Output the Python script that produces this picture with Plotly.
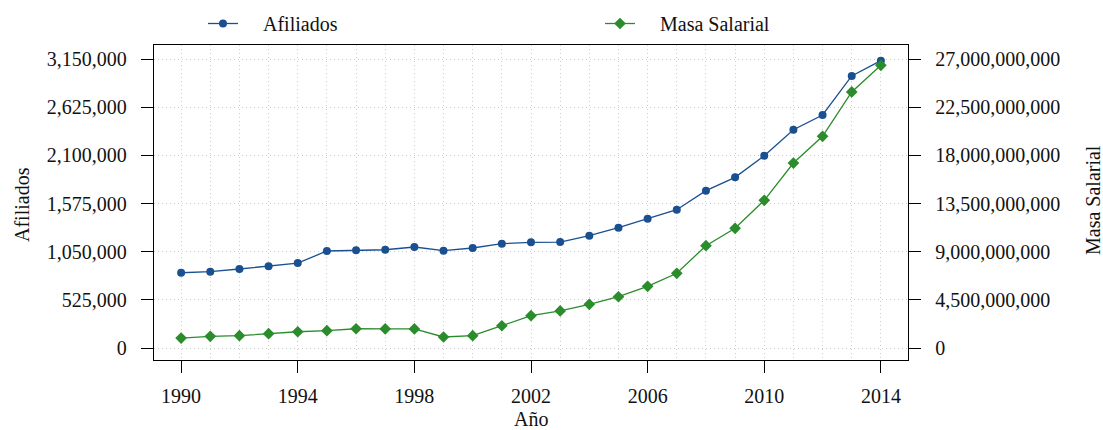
import plotly.graph_objects as go

years = list(range(1990, 2015))
afiliados = [820000, 832000, 861000, 890000, 926000, 1057000, 1065000, 1071000,
             1101000, 1061000, 1090000, 1137000, 1152000, 1155000, 1224000,
             1311000, 1409000, 1507000, 1715000, 1860000, 2096000, 2379000,
             2540000, 2965000, 3132000]
masa_salarial = [0.93e9, 1.09e9, 1.15e9, 1.34e9, 1.52e9, 1.62e9, 1.80e9, 1.78e9,
                 1.78e9, 1.03e9, 1.15e9, 2.08e9, 3.02e9, 3.46e9, 4.08e9, 4.79e9,
                 5.76e9, 6.98e9, 9.56e9, 11.18e9, 13.80e9, 17.28e9, 19.78e9,
                 23.92e9, 26.41e9]
x_ticks = [1990, 1994, 1998, 2002, 2006, 2010, 2014]
y1_ticks = [0, 525000, 1050000, 1575000, 2100000, 2625000, 3150000]
y2_ticks = [0, 4.5e9, 9e9, 13.5e9, 18e9, 22.5e9, 27e9]

BLUE = "#1a5090"
GREEN = "#2a8c2a"
FONT = "Liberation Serif"
FS = 20
GRID = "#cccccc"
DASH = "1px,3px"
PAD = "\u00a0" * 4

W, H = 1103, 430
L, R, T, B = 154, 908, 45, 360


def px_x(px):
    return (px - L) / (R - L)


def px_y(py):
    return (B - py) / (B - T)


fig = go.Figure()
fig.add_trace(go.Scatter(
    x=years, y=afiliados, name=PAD + "Afiliados", mode="lines+markers",
    line=dict(color=BLUE, width=1.3), marker=dict(symbol="circle", size=8, color=BLUE),
    legend="legend", showlegend=True, yaxis="y"))
fig.add_trace(go.Scatter(
    x=years, y=masa_salarial, name=PAD + "Masa Salarial", mode="lines+markers",
    line=dict(color=GREEN, width=1.3), marker=dict(symbol="diamond", size=9, color=GREEN),
    legend="legend2", showlegend=True, yaxis="y2"))

fig.update_layout(
    width=W, height=H,
    showlegend=True,
    margin=dict(l=L, r=W - R, t=T, b=H - B, autoexpand=False),
    paper_bgcolor="white", plot_bgcolor="white",
    font=dict(family=FONT, size=FS, color="#111111"),
    legend=dict(x=px_x(203), y=px_y(4), xanchor="left", yanchor="top",
                orientation="h", font=dict(family=FONT, size=FS), bgcolor="rgba(0,0,0,0)",
                visible=True),
    legend2=dict(x=px_x(600), y=px_y(4), xanchor="left", yanchor="top",
                 orientation="h", font=dict(family=FONT, size=FS), bgcolor="rgba(0,0,0,0)",
                 visible=True),
    xaxis=dict(
        range=[1989.07, 2014.93], tickvals=x_ticks, ticks="outside", ticklen=12,
        tickcolor="black", showline=True, linecolor="black", linewidth=1.3, mirror=True,
        showgrid=True, gridcolor=GRID, griddash=DASH, gridwidth=1,
        minor=dict(dtick=1, tick0=1990, showgrid=True, gridcolor=GRID,
                   griddash=DASH, gridwidth=1, ticks=""),
        zeroline=False, ticklabelstandoff=6, tickfont=dict(family=FONT, size=FS),
    ),
    yaxis=dict(
        range=[-130800, 3302600], tickvals=y1_ticks, tickformat=",d", ticks="outside",
        ticklen=12, tickcolor="black", showline=True, linecolor="black", linewidth=1.3,
        showgrid=True, gridcolor=GRID, griddash=DASH, gridwidth=1,
        zeroline=False, ticklabelstandoff=10, tickfont=dict(family=FONT, size=FS),
    ),
    yaxis2=dict(
        range=[-1.121e9, 28.308e9], tickvals=y2_ticks, tickformat=",d", ticks="outside",
        ticklen=12, tickcolor="black", showline=True, linecolor="black", linewidth=1.3,
        overlaying="y", side="right", showgrid=False, zeroline=False,
        ticklabelstandoff=10, tickfont=dict(family=FONT, size=FS),
    ),
    annotations=[
        dict(text="Afiliados", x=px_x(22), y=px_y(205), xref="paper", yref="paper",
             showarrow=False, textangle=-90, xanchor="center", yanchor="middle",
             font=dict(family=FONT, size=FS)),
        dict(text="Masa Salarial", x=px_x(1093), y=px_y(200), xref="paper", yref="paper",
             showarrow=False, textangle=-90, xanchor="center", yanchor="middle",
             font=dict(family=FONT, size=FS)),
        dict(text="Año", x=px_x(531), y=px_y(419), xref="paper", yref="paper",
             showarrow=False, xanchor="center", yanchor="middle",
             font=dict(family=FONT, size=FS)),
    ],
)

fig.write_html("out.html", config={"displayModeBar": False},
               post_script="document.body.style.margin='0';document.body.style.overflow='hidden';")
